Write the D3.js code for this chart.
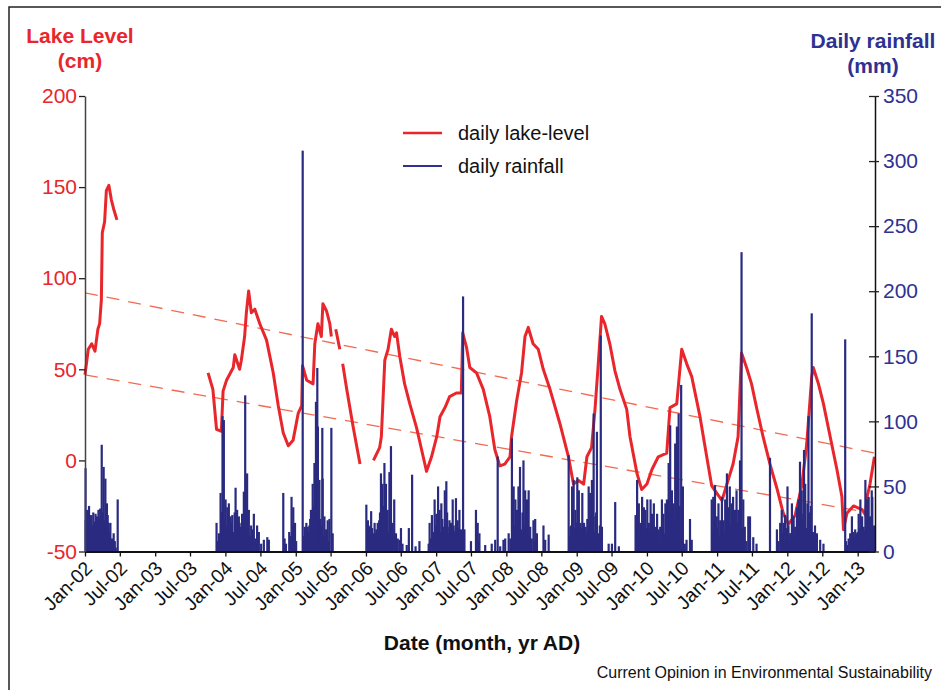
<!DOCTYPE html>
<html>
<head>
<meta charset="utf-8">
<script src="https://cdn.jsdelivr.net/npm/d3@7"></script>
<style>
  body { margin: 0; background: #fff; }
  svg { display: block; font-family: "Liberation Sans", Arial, Helvetica, sans-serif; }
</style>
</head>
<body>
<svg id="chart"></svg>
<script>
// daily lake level (cm); null = gap in the record
const lakeLevel = [
  ["2002-01-01", 47], ["2002-01-18", 61], ["2002-02-05", 64], ["2002-02-22", 60],
  ["2002-03-09", 72], ["2002-03-18", 75], ["2002-03-27", 88], ["2002-04-01", 125],
  ["2002-04-13", 131], ["2002-04-22", 148], ["2002-05-05", 151], ["2002-05-18", 143],
  ["2002-05-30", 138], ["2002-06-16", 132], ["2002-06-17", null],
  ["2003-10-03", 48], ["2003-10-28", 39], ["2003-11-16", 17], ["2003-12-11", 16],
  ["2003-12-20", 38], ["2004-01-07", 44], ["2004-02-11", 51], ["2004-02-19", 58],
  ["2004-03-15", 50], ["2004-03-24", 55], ["2004-04-10", 68], ["2004-04-19", 81],
  ["2004-05-01", 93], ["2004-05-15", 81], ["2004-06-02", 83], ["2004-06-28", 75],
  ["2004-08-02", 66], ["2004-09-06", 48], ["2004-10-02", 30], ["2004-10-28", 15],
  ["2004-11-23", 8], ["2004-12-18", 11], ["2005-01-14", 26], ["2005-02-01", 30],
  ["2005-02-05", 52], ["2005-02-27", 44], ["2005-04-01", 42], ["2005-04-10", 64],
  ["2005-04-26", 75], ["2005-05-14", 68], ["2005-05-22", 86], ["2005-06-10", 82],
  ["2005-06-27", 75], ["2005-07-05", 68], ["2005-07-15", null],
  ["2005-07-28", 72], ["2005-08-18", 61], ["2005-08-25", null],
  ["2005-09-02", 53], ["2005-09-23", 39], ["2005-10-27", 18], ["2005-12-01", -2],
  ["2005-12-20", null],
  ["2006-02-09", 0], ["2006-03-13", 7], ["2006-03-22", 13], ["2006-04-09", 55],
  ["2006-04-26", 61], ["2006-05-13", 72], ["2006-05-30", 68], ["2006-06-09", 70],
  ["2006-06-26", 57], ["2006-07-21", 42], ["2006-08-17", 31], ["2006-09-21", 18],
  ["2006-10-17", 6], ["2006-11-12", -6], ["2006-12-08", 2], ["2007-01-04", 13],
  ["2007-01-21", 24], ["2007-02-16", 29], ["2007-03-12", 35], ["2007-04-16", 37],
  ["2007-05-12", 37], ["2007-05-19", 70], ["2007-06-08", 62], ["2007-06-25", 51],
  ["2007-07-30", 48], ["2007-09-03", 39], ["2007-10-07", 24], ["2007-11-02", 6],
  ["2007-11-28", -3], ["2007-12-24", -2], ["2008-01-20", 2], ["2008-01-28", 13],
  ["2008-02-24", 33], ["2008-03-20", 48], ["2008-04-07", 68], ["2008-04-24", 73],
  ["2008-05-19", 64], ["2008-06-15", 61], ["2008-07-11", 50], ["2008-08-15", 39],
  ["2008-10-06", 20], ["2008-11-19", 2], ["2008-12-15", -13], ["2009-01-10", -11],
  ["2009-02-06", -13], ["2009-02-23", 2], ["2009-03-19", 7], ["2009-04-06", 28],
  ["2009-04-23", 53], ["2009-05-10", 79], ["2009-05-27", 75], ["2009-06-22", 64],
  ["2009-07-19", 49], ["2009-08-14", 39], ["2009-09-18", 28], ["2009-10-05", 13],
  ["2009-11-10", -7], ["2009-12-05", -16], ["2010-01-01", -13], ["2010-01-27", -5],
  ["2010-03-01", 2], ["2010-04-14", 4], ["2010-05-01", 29], ["2010-06-05", 31],
  ["2010-07-01", 61], ["2010-07-27", 53], ["2010-08-22", 46], ["2010-10-04", 24],
  ["2010-11-08", 2], ["2010-12-04", -14], ["2010-12-30", -18], ["2011-01-26", -22],
  ["2011-02-21", -13], ["2011-03-25", -2], ["2011-04-20", 13], ["2011-05-08", 59],
  ["2011-06-03", 51], ["2011-06-29", 42], ["2011-07-25", 29], ["2011-08-28", 13],
  ["2011-10-03", -2], ["2011-11-07", -15], ["2011-12-11", -29], ["2012-01-07", -35],
  ["2012-02-11", -30], ["2012-02-28", -22], ["2012-03-16", -14], ["2012-04-11", 9],
  ["2012-04-28", 33], ["2012-05-07", 46], ["2012-05-15", 51], ["2012-06-11", 42],
  ["2012-07-07", 31], ["2012-08-11", 13], ["2012-09-15", -5], ["2012-10-11", -20],
  ["2012-10-19", -38], ["2012-11-06", -29], ["2012-12-10", -25], ["2013-01-24", -27],
  ["2013-02-10", -30], ["2013-02-19", -20], ["2013-03-06", -13], ["2013-03-29", 2]
];

// daily rainfall (mm), one array per wet season
const rain2002 = [
  ["2002-01-04", 64], ["2002-01-05", 24], ["2002-01-12", 32], ["2002-01-18", 17],
  ["2002-01-26", 28], ["2002-02-03", 28], ["2002-02-09", 20], ["2002-02-17", 23],
  ["2002-02-25", 29], ["2002-02-28", 13], ["2002-03-04", 27], ["2002-03-07", 18],
  ["2002-03-12", 32], ["2002-03-21", 33], ["2002-03-29", 82], ["2002-04-08", 65],
  ["2002-04-17", 56], ["2002-04-21", 20], ["2002-04-25", 37], ["2002-04-29", 28],
  ["2002-05-04", 22], ["2002-05-13", 22], ["2002-05-17", 9], ["2002-05-25", 5],
  ["2002-05-30", 14], ["2002-06-10", 3], ["2002-06-20", 40],
  ["2002-01-08", 20], ["2002-01-22", 35], ["2002-01-30", 15], ["2002-02-13", 30],
  ["2002-02-21", 12], ["2002-03-16", 25], ["2002-03-25", 18], ["2002-04-03", 30],
  ["2002-04-12", 24], ["2002-05-08", 15], ["2002-05-21", 10], ["2002-06-05", 8]
];
const rain2004 = [
  ["2003-11-16", 22], ["2003-11-28", 14], ["2003-12-07", 45], ["2003-12-17", 104],
  ["2003-12-24", 101], ["2004-01-02", 40], ["2004-01-11", 34], ["2004-01-19", 37],
  ["2004-01-28", 27], ["2004-02-06", 28], ["2004-02-23", 49], ["2004-03-02", 32],
  ["2004-03-11", 27], ["2004-03-19", 19], ["2004-03-28", 29], ["2004-04-06", 46],
  ["2004-04-13", 120], ["2004-04-23", 60], ["2004-05-02", 32], ["2004-05-19", 17],
  ["2004-05-28", 29], ["2004-06-14", 20], ["2004-06-23", 15], ["2004-07-19", 9],
  ["2004-08-06", 11], ["2004-08-14", 9],
  ["2003-11-22", 8], ["2003-12-02", 12], ["2003-12-12", 30], ["2003-12-29", 25],
  ["2004-01-06", 20], ["2004-01-15", 28], ["2004-01-24", 18], ["2004-02-02", 22],
  ["2004-02-11", 15], ["2004-02-18", 30], ["2004-02-27", 20], ["2004-03-06", 14],
  ["2004-03-15", 22], ["2004-03-24", 12], ["2004-04-02", 25], ["2004-04-18", 30],
  ["2004-04-28", 18], ["2004-05-08", 12], ["2004-05-14", 20], ["2004-06-05", 10],
  ["2004-07-05", 6]
];
const rain2005 = [
  ["2004-10-28", 45], ["2004-11-11", 6], ["2004-11-28", 15], ["2004-12-10", 42],
  ["2004-12-19", 34], ["2004-12-28", 22], ["2005-02-06", 308], ["2005-02-09", 6],
  ["2005-02-17", 19], ["2005-02-25", 22], ["2005-03-04", 19], ["2005-03-13", 20],
  ["2005-03-21", 32], ["2005-03-30", 52], ["2005-04-08", 68], ["2005-04-16", 115],
  ["2005-04-23", 141], ["2005-04-26", 96], ["2005-05-04", 55], ["2005-05-19", 95],
  ["2005-05-21", 56], ["2005-05-30", 27], ["2005-06-08", 17], ["2005-06-16", 24],
  ["2005-06-25", 25], ["2005-07-05", 95], ["2005-07-12", 14],
  ["2004-11-04", 10], ["2004-12-04", 12], ["2004-12-14", 20], ["2005-01-03", 8],
  ["2005-02-13", 12], ["2005-02-21", 14], ["2005-03-01", 10], ["2005-03-08", 15],
  ["2005-03-17", 25], ["2005-03-25", 30], ["2005-04-03", 35], ["2005-04-12", 40],
  ["2005-05-01", 30], ["2005-05-09", 25], ["2005-05-14", 20], ["2005-05-25", 12],
  ["2005-06-03", 10], ["2005-06-12", 15], ["2005-06-21", 8]
];
const rain2006 = [
  ["2006-01-03", 36], ["2006-01-11", 24], ["2006-01-20", 19], ["2006-01-28", 31],
  ["2006-02-07", 14], ["2006-02-15", 22], ["2006-02-24", 17], ["2006-03-03", 22],
  ["2006-03-11", 24], ["2006-03-20", 60], ["2006-03-28", 52], ["2006-04-07", 68],
  ["2006-04-15", 52], ["2006-04-24", 32], ["2006-05-03", 61], ["2006-05-11", 81],
  ["2006-05-20", 22], ["2006-05-28", 40], ["2006-06-06", 14], ["2006-06-24", 9],
  ["2006-07-02", 18], ["2006-08-01", 5], ["2006-08-12", 18], ["2006-08-29", 59],
  ["2006-09-16", 4], ["2006-10-06", 8],
  ["2006-01-07", 15], ["2006-01-15", 20], ["2006-01-24", 12], ["2006-02-02", 18],
  ["2006-02-11", 10], ["2006-02-19", 14], ["2006-02-28", 12], ["2006-03-07", 16],
  ["2006-03-15", 30], ["2006-03-24", 25], ["2006-04-02", 35], ["2006-04-11", 30],
  ["2006-04-19", 20], ["2006-04-28", 15], ["2006-05-07", 25], ["2006-05-16", 18],
  ["2006-05-24", 12], ["2006-06-02", 8], ["2006-06-15", 10], ["2006-07-10", 6]
];
const rain2007 = [
  ["2006-11-23", 6], ["2006-11-28", 22], ["2006-12-10", 28], ["2006-12-24", 40],
  ["2007-01-02", 29], ["2007-01-11", 50], ["2007-01-19", 32], ["2007-01-28", 37],
  ["2007-02-06", 19], ["2007-02-15", 47], ["2007-02-23", 54], ["2007-03-02", 19],
  ["2007-03-11", 24], ["2007-03-19", 22], ["2007-03-28", 40], ["2007-04-06", 14],
  ["2007-04-14", 41], ["2007-04-23", 24], ["2007-05-02", 32], ["2007-05-10", 17],
  ["2007-05-21", 196], ["2007-05-28", 17], ["2007-07-01", 8], ["2007-07-27", 32],
  ["2007-08-05", 22], ["2007-08-14", 14], ["2007-09-13", 5], ["2007-10-17", 6],
  ["2006-12-04", 10], ["2006-12-17", 15], ["2006-12-28", 20], ["2007-01-06", 18],
  ["2007-01-15", 22], ["2007-01-24", 15], ["2007-02-02", 25], ["2007-02-11", 12],
  ["2007-02-19", 20], ["2007-02-27", 30], ["2007-03-07", 14], ["2007-03-15", 18],
  ["2007-03-24", 12], ["2007-04-02", 20], ["2007-04-10", 16], ["2007-04-19", 12],
  ["2007-04-28", 18], ["2007-05-06", 10], ["2007-05-15", 14], ["2007-08-10", 8]
];
const rain2008 = [
  ["2007-11-04", 9], ["2007-11-17", 73], ["2007-11-30", 4], ["2007-12-17", 9],
  ["2007-12-26", 10], ["2008-01-13", 14], ["2008-01-30", 87], ["2008-02-08", 50],
  ["2008-02-17", 40], ["2008-02-26", 32], ["2008-03-04", 50], ["2008-03-12", 65],
  ["2008-03-21", 17], ["2008-03-30", 70], ["2008-04-08", 47], ["2008-04-17", 40],
  ["2008-04-26", 47], ["2008-05-04", 19], ["2008-05-21", 24], ["2008-05-30", 25],
  ["2008-06-08", 14], ["2008-07-12", 20], ["2008-07-21", 9], ["2008-08-08", 13],
  ["2008-01-22", 10], ["2008-02-04", 25], ["2008-02-13", 20], ["2008-02-21", 18],
  ["2008-03-01", 22], ["2008-03-08", 28], ["2008-03-16", 12], ["2008-03-25", 30],
  ["2008-04-03", 20], ["2008-04-12", 18], ["2008-04-21", 25], ["2008-04-30", 12],
  ["2008-05-12", 10], ["2008-05-26", 8], ["2008-06-03", 6]
];
const rain2009 = [
  ["2008-11-20", 74], ["2008-11-29", 19], ["2008-12-08", 50], ["2008-12-16", 55],
  ["2008-12-25", 32], ["2009-01-04", 57], ["2009-01-12", 47], ["2009-01-21", 22],
  ["2009-01-30", 45], ["2009-02-08", 22], ["2009-02-16", 19], ["2009-02-25", 25],
  ["2009-03-04", 50], ["2009-03-12", 45], ["2009-03-21", 55], ["2009-03-30", 106],
  ["2009-04-08", 27], ["2009-04-16", 92], ["2009-04-25", 14], ["2009-05-06", 166],
  ["2009-05-12", 19], ["2009-06-16", 6], ["2009-07-03", 6], ["2009-07-20", 38],
  ["2009-08-08", 4],
  ["2008-11-24", 12], ["2008-12-03", 20], ["2008-12-12", 25], ["2008-12-20", 18],
  ["2008-12-29", 22], ["2009-01-08", 20], ["2009-01-16", 14], ["2009-01-25", 18],
  ["2009-02-03", 12], ["2009-02-12", 10], ["2009-02-20", 14], ["2009-02-28", 18],
  ["2009-03-08", 22], ["2009-03-16", 20], ["2009-03-25", 28], ["2009-04-03", 15],
  ["2009-04-12", 30], ["2009-04-20", 10], ["2009-05-01", 20]
];
const rain2010 = [
  ["2009-11-03", 28], ["2009-11-11", 55], ["2009-11-20", 37], ["2009-11-28", 22],
  ["2009-12-07", 42], ["2009-12-16", 34], ["2009-12-24", 32], ["2010-01-03", 40],
  ["2010-01-11", 22], ["2010-01-20", 40], ["2010-01-28", 29], ["2010-02-06", 37],
  ["2010-02-15", 19], ["2010-02-23", 29], ["2010-03-03", 17], ["2010-03-11", 19],
  ["2010-03-20", 40], ["2010-03-28", 29], ["2010-04-07", 37], ["2010-04-15", 40],
  ["2010-04-24", 68], ["2010-05-02", 97], ["2010-05-11", 47], ["2010-05-20", 37],
  ["2010-05-28", 83], ["2010-06-06", 96], ["2010-06-15", 106], ["2010-06-28", 128],
  ["2010-07-07", 50], ["2010-07-17", 6], ["2010-07-26", 9], ["2010-08-13", 25],
  ["2010-08-22", 9],
  ["2009-11-07", 12], ["2009-11-15", 18], ["2009-11-24", 10], ["2009-12-03", 16],
  ["2009-12-11", 20], ["2009-12-20", 14], ["2009-12-29", 18], ["2010-01-07", 12],
  ["2010-01-15", 16], ["2010-01-24", 14], ["2010-02-02", 12], ["2010-02-10", 18],
  ["2010-02-19", 10], ["2010-02-27", 14], ["2010-03-07", 8], ["2010-03-15", 12],
  ["2010-03-24", 16], ["2010-04-02", 14], ["2010-04-11", 18], ["2010-04-20", 25],
  ["2010-04-28", 30], ["2010-05-06", 22], ["2010-05-15", 18], ["2010-05-24", 25],
  ["2010-06-02", 30], ["2010-06-10", 28], ["2010-06-20", 35], ["2010-07-02", 14]
];
const rain2011 = [
  ["2010-12-04", 40], ["2010-12-12", 42], ["2010-12-21", 51], ["2010-12-30", 27],
  ["2011-01-08", 37], ["2011-01-17", 24], ["2011-01-26", 42], ["2011-02-03", 24],
  ["2011-02-12", 40], ["2011-02-21", 60], ["2011-03-01", 34], ["2011-03-08", 50],
  ["2011-03-17", 37], ["2011-03-25", 42], ["2011-04-04", 32], ["2011-04-12", 47],
  ["2011-04-21", 32], ["2011-04-30", 70], ["2011-05-08", 230], ["2011-05-17", 40],
  ["2011-05-25", 19], ["2011-06-12", 27], ["2011-06-21", 27], ["2011-07-08", 11],
  ["2011-07-25", 6],
  ["2010-12-08", 15], ["2010-12-16", 20], ["2010-12-25", 14], ["2011-01-04", 18],
  ["2011-01-12", 12], ["2011-01-21", 16], ["2011-01-30", 10], ["2011-02-07", 14],
  ["2011-02-16", 18], ["2011-02-25", 22], ["2011-03-04", 16], ["2011-03-12", 20],
  ["2011-03-21", 14], ["2011-03-29", 18], ["2011-04-08", 12], ["2011-04-16", 22],
  ["2011-04-25", 16], ["2011-05-04", 25], ["2011-05-12", 18], ["2011-05-21", 10],
  ["2011-06-02", 8], ["2011-06-16", 12]
];
const rain2012 = [
  ["2011-10-03", 72], ["2011-11-08", 17], ["2011-11-25", 22], ["2011-12-03", 32],
  ["2011-12-12", 22], ["2011-12-20", 28], ["2012-01-02", 50], ["2012-01-16", 14],
  ["2012-01-25", 37], ["2012-02-03", 27], ["2012-02-11", 19], ["2012-02-20", 34],
  ["2012-02-28", 40], ["2012-03-07", 69], ["2012-03-16", 47], ["2012-03-24", 29],
  ["2012-03-28", 78], ["2012-04-03", 52], ["2012-04-15", 37], ["2012-04-20", 104],
  ["2012-05-07", 183], ["2012-05-24", 20], ["2012-06-03", 14], ["2012-06-20", 9],
  ["2012-07-07", 6],
  ["2011-11-16", 8], ["2011-11-30", 12], ["2011-12-07", 14], ["2011-12-16", 12],
  ["2011-12-25", 18], ["2012-01-07", 20], ["2012-01-12", 10], ["2012-01-20", 14],
  ["2012-01-29", 16], ["2012-02-07", 12], ["2012-02-15", 10], ["2012-02-24", 15],
  ["2012-03-03", 20], ["2012-03-11", 18], ["2012-03-20", 22], ["2012-03-31", 25],
  ["2012-04-07", 18], ["2012-04-24", 30], ["2012-04-29", 20], ["2012-05-03", 35],
  ["2012-05-13", 15], ["2012-05-18", 10]
];
const rain2013 = [
  ["2012-10-28", 163], ["2012-11-06", 5], ["2012-11-23", 14], ["2012-12-02", 27],
  ["2012-12-10", 15], ["2012-12-19", 17], ["2012-12-28", 14], ["2013-01-06", 29],
  ["2013-01-15", 40], ["2013-01-24", 27], ["2013-02-01", 19], ["2013-02-10", 55],
  ["2013-02-19", 40], ["2013-02-27", 42], ["2013-03-06", 27], ["2013-03-15", 47],
  ["2013-03-18", 42], ["2013-03-23", 14],
  ["2012-11-02", 8], ["2012-11-15", 10], ["2012-11-28", 12], ["2012-12-06", 14],
  ["2012-12-14", 10], ["2012-12-23", 12], ["2013-01-01", 15], ["2013-01-10", 18],
  ["2013-01-19", 20], ["2013-01-28", 14], ["2013-02-05", 16], ["2013-02-14", 22],
  ["2013-02-23", 18], ["2013-03-02", 20], ["2013-03-10", 25], ["2013-03-27", 20]
];

// dashed envelope lines (cm)
const upperTrend = [["2002-01-01", 92], ["2013-04-01", 4]];
const lowerTrend = [["2002-01-01", 47], ["2013-01-25", -28]];

const xDomain = ["2002-01-01", "2013-04-01"];
const lakeTicks = [-50, 0, 50, 100, 150, 200];
const rainTicks = [0, 50, 100, 150, 200, 250, 300, 350];

const width = 941, height = 690;
const parse = d3.timeParse("%Y-%m-%d");
const RED = "#e8262b", NAVY = "#2e3192", BAR = "#2a2b80";

const svg = d3.select("#chart").attr("width", width).attr("height", height);
svg.append("rect").attr("width", width).attr("height", height).attr("fill", "#fff");

// figure frame (top and left edges)
svg.append("path")
    .attr("d", `M9,${height} V7 H${width}`)
    .attr("fill", "none")
    .attr("stroke", "#222")
    .attr("stroke-width", 1.5);

const x = d3.scaleTime()
    .domain(xDomain.map(parse))
    .range([85, 875]);
const yL = d3.scaleLinear().domain([-50, 200]).range([551.5, 96]);
const yR = d3.scaleLinear().domain([0, 350]).range([551.5, 96]);

const lakeLine = d3.line()
    .defined(d => d[1] !== null)
    .x(d => x(parse(d[0])))
    .y(d => yL(d[1]));

// dashed trend lines
[upperTrend, lowerTrend].forEach(t => {
  svg.append("path")
      .attr("d", lakeLine(t))
      .attr("fill", "none")
      .attr("stroke", "#f26a50")
      .attr("stroke-width", 1.3)
      .attr("stroke-dasharray", "13,9");
});

// lake level
svg.append("path")
    .attr("d", lakeLine(lakeLevel))
    .attr("fill", "none")
    .attr("stroke", RED)
    .attr("stroke-width", 3)
    .attr("stroke-linejoin", "round");

// rainfall bars
const rain = [].concat(rain2002, rain2004, rain2005, rain2006, rain2007,
  rain2008, rain2009, rain2010, rain2011, rain2012, rain2013);

svg.append("g").selectAll("rect")
  .data(rain)
  .join("rect")
    .attr("x", d => x(parse(d[0])) - 1.1)
    .attr("width", 2.2)
    .attr("y", d => yR(d[1]))
    .attr("height", d => yR(0) - yR(d[1]))
    .attr("fill", BAR);

// axes
const xTicks = d3.timeMonth.range(parse("2002-01-01"), parse("2013-01-02"), 6);
const xAxis = svg.append("g")
    .attr("transform", `translate(0,${yL(-50)})`)
    .call(d3.axisBottom(x).tickValues(xTicks).tickFormat(d3.timeFormat("%b-%y")).tickSize(5).tickSizeOuter(0));
xAxis.select(".domain").attr("stroke", "#111").attr("stroke-width", 2);
xAxis.selectAll(".tick line").attr("stroke", "#111").attr("stroke-width", 1.3);
xAxis.selectAll(".tick text")
    .attr("font-size", 19.5)
    .attr("fill", "#111")
    .attr("text-anchor", "end")
    .attr("dy", null)
    .attr("y", 0)
    .attr("transform", "translate(8,18) rotate(-45)");

const leftAxis = svg.append("g")
    .attr("transform", "translate(85,0)")
    .call(d3.axisLeft(yL).tickValues(lakeTicks).tickFormat(d => String(d))
      .tickSize(6).tickPadding(2).tickSizeOuter(0));
leftAxis.select(".domain").attr("stroke", "#444").attr("stroke-width", 1.5);
leftAxis.selectAll(".tick line").attr("stroke", "#222").attr("stroke-width", 1.3);
leftAxis.selectAll(".tick text").attr("font-size", 21).attr("fill", RED);

const rightAxis = svg.append("g")
    .attr("transform", "translate(875,0)")
    .call(d3.axisRight(yR).tickValues(rainTicks).tickFormat(d => String(d))
      .tickSize(4).tickPadding(4).tickSizeOuter(0));
rightAxis.select(".domain").attr("stroke", "#111").attr("stroke-width", 1.5);
rightAxis.selectAll(".tick line").attr("x1", -6).attr("stroke", "#222").attr("stroke-width", 1.3);
rightAxis.selectAll(".tick text").attr("font-size", 21).attr("fill", NAVY);

// axis titles
svg.append("text")
    .attr("x", 80).attr("y", 43)
    .attr("text-anchor", "middle")
    .attr("font-size", 21).attr("font-weight", "bold").attr("fill", RED)
    .text("Lake Level");
svg.append("text")
    .attr("x", 80).attr("y", 68)
    .attr("text-anchor", "middle")
    .attr("font-size", 21).attr("font-weight", "bold").attr("fill", RED)
    .text("(cm)");
svg.append("text")
    .attr("x", 873).attr("y", 48)
    .attr("text-anchor", "middle")
    .attr("font-size", 21).attr("font-weight", "bold").attr("fill", NAVY)
    .text("Daily rainfall");
svg.append("text")
    .attr("x", 873).attr("y", 73)
    .attr("text-anchor", "middle")
    .attr("font-size", 21).attr("font-weight", "bold").attr("fill", NAVY)
    .text("(mm)");

svg.append("text")
    .attr("x", 482).attr("y", 650)
    .attr("text-anchor", "middle")
    .attr("font-size", 21).attr("font-weight", "bold").attr("fill", "#111")
    .text("Date (month, yr AD)");

svg.append("text")
    .attr("x", 932).attr("y", 678)
    .attr("text-anchor", "end")
    .attr("font-size", 16).attr("fill", "#111")
    .text("Current Opinion in Environmental Sustainability");

// legend
const legendItems = [
  { label: "daily lake-level", color: RED, width: 2.6, y: 133 },
  { label: "daily rainfall", color: NAVY, width: 2, y: 166 }
];
const legend = svg.append("g");
legend.selectAll("line")
  .data(legendItems)
  .join("line")
    .attr("x1", 403).attr("x2", 442)
    .attr("y1", d => d.y).attr("y2", d => d.y)
    .attr("stroke", d => d.color)
    .attr("stroke-width", d => d.width);
legend.selectAll("text")
  .data(legendItems)
  .join("text")
    .attr("x", 458).attr("y", d => d.y)
    .attr("dy", "0.35em")
    .attr("font-size", 20).attr("fill", "#111")
    .text(d => d.label);
</script>
</body>
</html>
